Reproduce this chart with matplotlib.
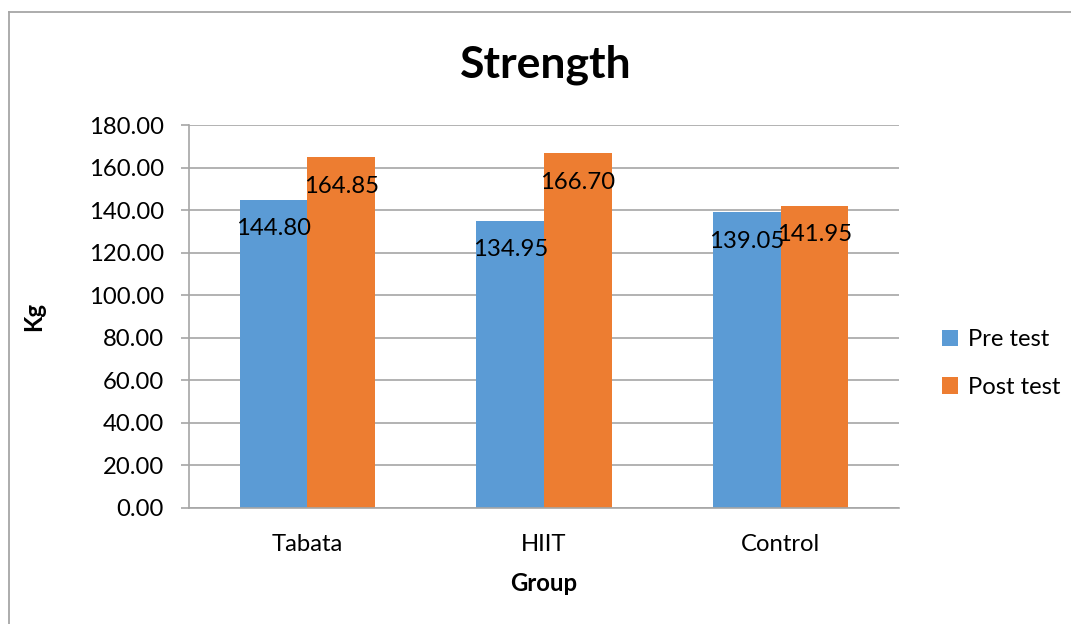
import matplotlib.pyplot as plt
import numpy as np
from matplotlib.lines import Line2D

groups = ["Tabata", "HIIT", "Control"]
pre_test = [144.80, 134.95, 139.05]
post_test = [164.85, 166.70, 141.95]
series_names = ["Pre test", "Post test"]
y_ticks = [0, 20, 40, 60, 80, 100, 120, 140, 160, 180]

blue = "#5B9BD5"
orange = "#ED7D31"
grid_gray = "#A6A6A6"

plt.rcParams['font.family'] = ['Lato', 'DejaVu Sans']
fs = 17.2

fig = plt.figure(figsize=(10.71, 6.24), dpi=100)
ax = fig.add_axes([189 / 1071, 1 - 508 / 624, 710 / 1071, 383 / 624])

x = np.arange(len(groups))
w = 1 / 3.5
b1 = ax.bar(x - w / 2, pre_test, w, color=blue, label=series_names[0])
b2 = ax.bar(x + w / 2, post_test, w, color=orange, label=series_names[1])

# data labels sit just inside the top of each bar
for bars, vals in [(b1, pre_test), (b2, post_test)]:
    for bar, v in zip(bars, vals):
        ax.annotate("{:.2f}".format(v), (bar.get_x() + bar.get_width() / 2, v),
                    xytext=(0, -29), textcoords="offset pixels",
                    ha="center", va="center", fontsize=fs, color="black")

ax.set_xlim(-0.5, len(groups) - 0.5)
ax.set_ylim(0, 180)
ax.set_yticks(y_ticks)
ax.set_yticklabels(["{:.2f}".format(t) for t in y_ticks])
ax.set_xticks(x)
ax.set_xticklabels(groups)
ax.yaxis.grid(True, color=grid_gray, linewidth=1.2)
ax.set_axisbelow(True)

for s in ["top", "right"]:
    ax.spines[s].set_visible(False)
ax.spines["left"].set_color(grid_gray)
ax.spines["bottom"].set_color(grid_gray)
ax.spines["left"].set_linewidth(1.2)
ax.spines["bottom"].set_linewidth(1.2)
ax.tick_params(axis="y", length=6, color=grid_gray, width=1.2, pad=12, labelsize=fs)
ax.tick_params(axis="x", length=0, pad=19, labelsize=fs)

ax.set_xlabel("Group", fontsize=fs, fontweight="bold", labelpad=12)
ax.set_ylabel("Kg", fontsize=fs, fontweight="bold")
ax.yaxis.set_label_coords(-0.203, 0.5)

fig.text(546 / 1071, 1 - 65 / 624, "Strength", fontsize=32, fontweight="bold",
         ha="center", va="center")

ax.legend(loc="center left", bbox_to_anchor=(1.06, 0.377), frameon=False,
          borderaxespad=0, borderpad=0,
          fontsize=fs, handlelength=0.7, handleheight=0.7, handletextpad=0.4,
          labelspacing=1.1)

# outer chart frame
x0 = 9 / 1071
y0 = 1 - 12 / 624
fig.add_artist(Line2D([x0, x0], [0, y0], color=grid_gray, linewidth=1.3))
fig.add_artist(Line2D([x0, 1], [y0, y0], color=grid_gray, linewidth=1.3))

fig.savefig("out.png", dpi=100)
